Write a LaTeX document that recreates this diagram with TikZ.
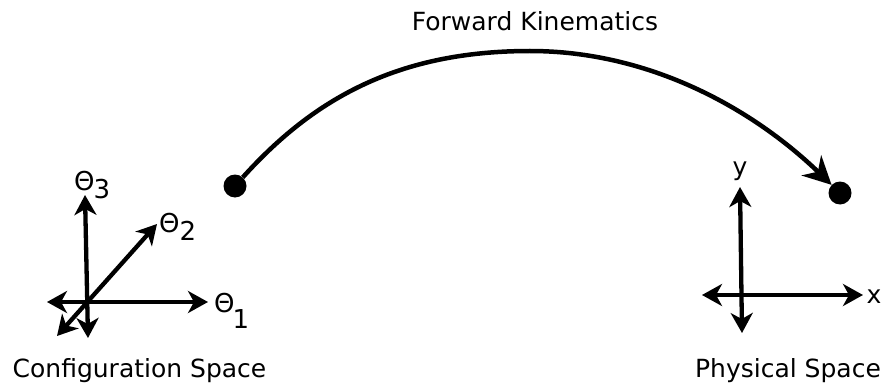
\documentclass[tikz,border=0pt]{standalone}
\usepackage{fontspec}
\setmainfont{DejaVu Sans}
\usetikzlibrary{arrows.meta}
\begin{document}
\begin{tikzpicture}[x=1pt,y=-1pt,
  ax/.style={line width=4.3pt,{Stealth[length=20pt,width=22pt,inset=6pt]}-{Stealth[length=20pt,width=22pt,inset=6pt]}},
  lbl/.style={font=\fontsize{25}{30}\selectfont,inner sep=0pt,anchor=base},
  thl/.style={font=\fontsize{26}{30}\selectfont,inner sep=0pt,anchor=base west},
  dot/.style={circle,fill=black,minimum size=23pt,inner sep=0pt}]
\useasboundingbox (0,0) rectangle (888,385);
% titles
\node[lbl] (fk) at (535,31) {Forward Kinematics};
\node[lbl] (cs) at (139.5,377) {Configuration Space};
\node[lbl] (ps) at (788,377) {Physical Space};
% dots and arc
\node[dot] (d1) at (235,186) {};
\node[dot] (d2) at (840,193) {};
\coordinate (pk) at (530,51);
\draw[line width=4.5pt,-{Stealth[length=28pt,width=28pt,inset=9pt]}] (d1) .. controls (315,97) and (400,51) .. (pk) .. controls (650,51) and (753,109) .. (d2);
% configuration axes
\coordinate (t1l) at (47,302);
\coordinate (t1r) at (208,302);
\coordinate (t3u) at (85,195);
\coordinate (t3d) at (88,338);
\coordinate (t2a) at (57,336);
\coordinate (t2b) at (157,224);
\draw[ax] (t1l) -- (t1r);
\draw[ax] (t3d) -- (t3u);
\draw[ax] (t2a) -- (t2b);
\node[thl] (th1) at (214,312) {Θ\kern-2pt\raisebox{-16pt}{1}};
\node[thl] (th2) at (159,232) {Θ\raisebox{-8pt}{2}};
\node[thl] (th3) at (74,190) {Θ\kern-1pt\raisebox{-8pt}{3}};
% physical axes
\coordinate (xl) at (702,295);
\coordinate (xr) at (863,295);
\coordinate (yu) at (740,187);
\coordinate (yd) at (742,333);
\draw[ax] (xl) -- (xr);
\draw[ax] (yd) -- (yu);
\node[lbl] (lx) at (874,303) {x};
\node[lbl] (ly) at (740,175) {y};
\end{tikzpicture}
\end{document}
